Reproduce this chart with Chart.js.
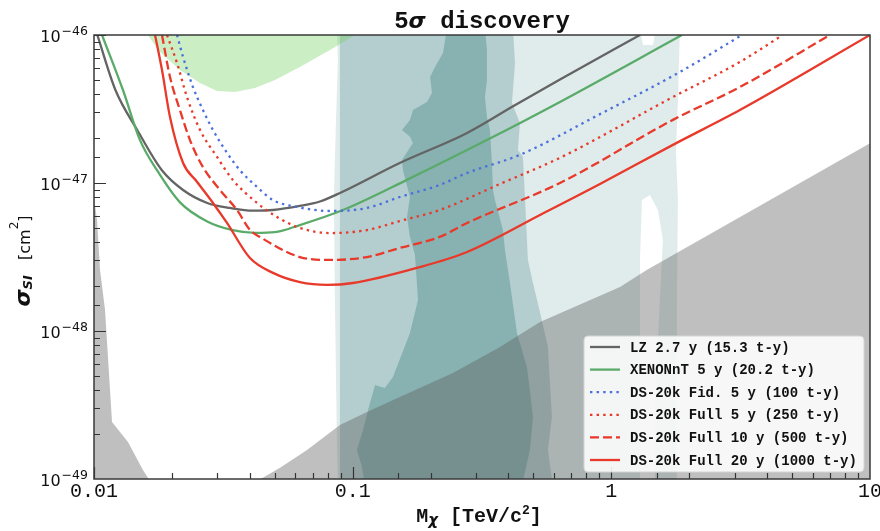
<!DOCTYPE html>
<html>
<head>
<meta charset="utf-8">
<script src="https://cdn.jsdelivr.net/npm/chart.js@4.4.1/dist/chart.umd.min.js"></script>
<style>
html,body{margin:0;padding:0;background:#ffffff;overflow:hidden}
#box{position:relative;width:880px;height:531px}
canvas{display:block}
</style>
</head>
<body>
<div id="box"><canvas id="chart" width="880" height="531"></canvas></div>
<script>
// ---------- tick labels ----------
const xTickText = ['0.01', '0.1', '1', '10'];   // decades 10^-2 .. 10^1 TeV
const yDecades = [-46, -47, -48, -49];           // sigma decades (cm^2)

// ---------- sensitivity curves (mass in TeV/c^2, sigma in cm^2) ----------
const lzMass   = [0.0103, 0.0121, 0.0147, 0.0183, 0.0221, 0.0274, 0.0336, 0.0412, 0.0492, 0.0625, 0.0747, 0.0893, 0.152, 0.277, 0.417, 0.633, 1.29];
const lzSigma  = [1.0e-46, 4.25e-47, 2.28e-47, 1.22e-47, 8.97e-48, 7.33e-48, 6.78e-48, 6.5e-48, 6.57e-48, 7.0e-48, 7.5e-48, 8.56e-48, 1.365e-47, 2.18e-47, 3.3e-47, 5.0e-47, 1.0e-46];

const xeMass   = [0.01074, 0.01294, 0.01506, 0.01752, 0.0215, 0.0274, 0.0344, 0.0420, 0.0500, 0.0625, 0.0917, 0.162, 0.330, 0.633, 1.875];
const xeSigma  = [1.0e-46, 4.25e-47, 1.95e-47, 1.22e-47, 7.4e-48, 5.5e-48, 4.8e-48, 4.6e-48, 4.65e-48, 5.2e-48, 6.57e-48, 1.05e-47, 1.95e-47, 3.53e-47, 1.0e-46];

const fidMass  = [0.02094, 0.0221, 0.02413, 0.02638, 0.02884, 0.03267, 0.03666, 0.0427, 0.0492, 0.0609, 0.0817, 0.1136, 0.152, 0.217, 0.277, 0.443, 0.904, 1.84, 3.2];
const fidSigma = [1.0e-46, 7.1e-47, 4.45e-47, 3.11e-47, 2.28e-47, 1.60e-47, 1.22e-47, 9.4e-48, 7.67e-48, 6.89e-48, 6.47e-48, 6.78e-48, 8.04e-48, 9.7e-48, 1.17e-47, 1.55e-47, 2.92e-47, 5.62e-47, 1.0e-46];

const full5Mass  = [0.01915, 0.02094, 0.02288, 0.0257, 0.0299, 0.0344, 0.0427, 0.0510, 0.0625, 0.0817, 0.1136, 0.152, 0.217, 0.371, 0.633, 1.73, 3.14, 4.6];
const full5Sigma = [1.0e-46, 6.47e-47, 3.81e-47, 2.28e-47, 1.50e-47, 1.05e-47, 7.33e-48, 5.89e-48, 4.97e-48, 4.59e-48, 4.81e-48, 5.53e-48, 6.57e-48, 9.85e-48, 1.48e-47, 3.81e-47, 6.57e-47, 1.0e-46];

const full10Mass  = [0.01832, 0.01967, 0.02149, 0.0235, 0.02638, 0.0307, 0.0357, 0.0401, 0.0438, 0.0625, 0.0817, 0.1136, 0.152, 0.217, 0.277, 0.633, 1.73, 3.14, 7.0];
const full10Sigma = [1.0e-46, 5.2e-47, 3.11e-47, 1.95e-47, 1.28e-47, 8.97e-48, 6.57e-48, 4.81e-48, 4.32e-48, 3.16e-48, 3.02e-48, 3.16e-48, 3.64e-48, 4.32e-48, 5.37e-48, 1.0e-47, 2.67e-47, 4.45e-47, 1.0e-46];

const full20Mass  = [0.01722, 0.01832, 0.01967, 0.0221, 0.0250, 0.02884, 0.03267, 0.0401, 0.0492, 0.0625, 0.0796, 0.1003, 0.177, 0.277, 0.530, 0.904, 1.73, 3.14, 10];
const full20Sigma = [1.0e-46, 5.8e-47, 2.79e-47, 1.365e-47, 1.02e-47, 7.33e-48, 5.37e-48, 3.11e-48, 2.47e-48, 2.14e-48, 2.05e-48, 2.11e-48, 2.67e-48, 3.42e-48, 6.08e-48, 9.84e-48, 1.81e-47, 3.11e-47, 1.0e-46];

// ---------- shaded regions (closed outlines) ----------
const lightMass  = [0.0869, 1.290, 1.325, 1.448, 1.487, 1.842, 1.809, 1.777, 1.809, 1.793, 1.793, 1.474, 1.474, 1.541, 1.583, 1.514, 1.410, 1.313, 1.290, 1.290, 0.0877, 0.0869, 0.0854, 0.0846, 0.0862, 0.0877];
const lightSigma = [1.1e-46, 1.1e-46, 8.56e-47, 8.56e-47, 1.1e-46, 1.1e-46, 3.64e-47, 1.67e-47, 7.67e-48, 1.62e-48, 9e-50, 9e-50, 3.42e-49, 1.62e-48, 4.12e-48, 6.57e-48, 8.30e-48, 7.67e-48, 3.02e-48, 9e-50, 9e-50, 1.84e-49, 1.62e-48, 7.67e-48, 2.67e-47, 6.78e-47];

const mediumMass  = [0.0893, 0.4167, 0.4242, 0.4130, 0.4433, 0.4355, 0.4553, 0.4634, 0.4759, 0.4978, 0.5297, 0.5687, 0.5790, 0.5894, 0.5687, 0.5947, 0.0893];
const mediumSigma = [1.1e-46, 1.1e-46, 6.47e-47, 3.47e-47, 2.54e-47, 1.67e-47, 1.50e-47, 8.04e-48, 3.02e-48, 2.11e-48, 1.34e-48, 7.80e-49, 4.46e-49, 2.62e-49, 1.57e-49, 9e-50, 9e-50];

const darkMass  = [0.2314, 0.2234, 0.2081, 0.1991, 0.2026, 0.1938, 0.1710, 0.1665, 0.1551, 0.1665, 0.1710, 0.1551, 0.1565, 0.1665, 0.1622, 0.1665, 0.1741, 0.1789, 0.1665, 0.1431, 0.1333, 0.1220, 0.1166, 0.1096, 0.1039, 0.1086, 0.1116,
                   0.4512, 0.4843, 0.4978, 0.4843, 0.4716, 0.4317, 0.4057, 0.3880, 0.3811, 0.3548, 0.3486, 0.3455, 0.3394, 0.3305, 0.3247, 0.3305, 0.3305, 0.3247];
const darkSigma = [1.1e-46, 7.55e-47, 6.08e-47, 5.2e-47, 4.06e-47, 3.53e-47, 3.11e-47, 2.67e-47, 2.28e-47, 2.05e-47, 1.86e-47, 1.43e-47, 1.22e-47, 8.04e-48, 5.89e-48, 4.32e-48, 3.26e-48, 1.62e-48, 9.68e-49, 4.89e-49, 4.12e-49, 4.32e-49, 3.26e-49, 2.14e-49, 1.57e-49, 1.21e-49, 9e-50,
                   9e-50, 1.57e-49, 2.62e-49, 3.99e-49, 5.71e-49, 9.68e-49, 2.11e-48, 3.52e-48, 4.81e-48, 7.67e-48, 8.97e-48, 1.365e-47, 2.28e-47, 2.79e-47, 3.81e-47, 4.97e-47, 7.92e-47, 1.1e-46];

const greenMass  = [0.0155, 0.0180, 0.02149, 0.0257, 0.0299, 0.0351, 0.0419, 0.0501, 0.0625, 0.0817, 0.112];
const greenSigma = [1.1e-46, 7.68e-47, 5.8e-47, 4.74e-47, 4.19e-47, 4.12e-47, 4.38e-47, 4.97e-47, 6.08e-47, 7.92e-47, 1.1e-46];

const spikeMass  = [0.0095, 0.0098, 0.01027, 0.01055, 0.01103, 0.01174, 0.01353, 0.01546, 0.0169, 0.0095];
const spikeSigma = [1.05e-47, 1.05e-47, 5.62e-48, 2.58e-48, 1.39e-48, 2.43e-49, 1.78e-49, 1.15e-49, 9e-50, 9e-50];

const floorMass  = [10.5, 0.0397, 0.0524, 0.0666, 0.0893, 0.1136, 0.152, 0.244, 0.371, 0.530, 1.08, 1.37, 10.5];
const floorSigma = [9e-50, 9e-50, 1.19e-49, 1.57e-49, 2.32e-49, 2.84e-49, 3.58e-49, 5.2e-49, 7.8e-49, 1.15e-48, 1.98e-48, 2.58e-48, 1.95e-47];

// ---------- helpers ----------
const pts = (xs, ys) => xs.map((x, i) => ({x: x, y: ys[i]}));
function curve(label, xs, ys, color, dash, order) {
  return {label, data: pts(xs, ys), borderColor: color, backgroundColor: color, borderWidth: 2.3,
          borderDash: dash, borderCapStyle: 'butt', pointRadius: 0, pointHoverRadius: 0, fill: false,
          cubicInterpolationMode: 'monotone', order, inLegend: true};
}
function area(label, xs, ys, color, order) {
  return {label, data: pts(xs, ys), borderWidth: 0, borderColor: 'rgba(0,0,0,0)', backgroundColor: color,
          pointRadius: 0, pointHoverRadius: 0, fill: 'shape', tension: 0, order, inLegend: false};
}
const isDecade = v => { const l = Math.log10(v); return Math.abs(l - Math.round(l)) < 1e-6; };

const RED = '#e8392a';
const FLOOR = 'rgba(90,90,90,0.39)';
const datasets = [
  curve('LZ 2.7 y (15.3 t-y)', lzMass, lzSigma, '#646464', [], 6),
  curve('XENONnT 5 y (20.2 t-y)', xeMass, xeSigma, '#5aab69', [], 5),
  curve('DS-20k Fid. 5 y (100 t-y)', fidMass, fidSigma, '#4b6fdc', [2.4, 4.2], 4),
  curve('DS-20k Full 5 y (250 t-y)', full5Mass, full5Sigma, RED, [2.4, 4.2], 3),
  curve('DS-20k Full 10 y (500 t-y)', full10Mass, full10Sigma, RED, [9, 4], 2),
  curve('DS-20k Full 20 y (1000 t-y)', full20Mass, full20Sigma, RED, [], 1),
  area('floor', floorMass, floorSigma, FLOOR, 10),
  area('floorLow', spikeMass, spikeSigma, FLOOR, 11),
  area('green', greenMass, greenSigma, 'rgba(110,205,90,0.35)', 12),
  area('dark', darkMass, darkSigma, 'rgba(60,130,125,0.37)', 13),
  area('medium', mediumMass, mediumSigma, 'rgba(80,140,142,0.30)', 14),
  area('light', lightMass, lightSigma, 'rgba(100,155,155,0.20)', 15)
];

function drawRuns(ctx, runs, cx, base) {
  let w = 0;
  runs.forEach(r => { ctx.font = r.f; r.w = ctx.measureText(r.t).width; w += r.w; });
  let x = cx - w / 2;
  ctx.textAlign = 'left'; ctx.textBaseline = 'alphabetic';
  runs.forEach(r => { ctx.font = r.f; ctx.fillText(r.t, x, base + (r.dy || 0)); x += r.w; });
}

const overlay = {
  id: 'overlay',
  afterDraw(chart) {
    const ctx = chart.ctx, ca = chart.chartArea;
    const xs = chart.scales.x, ys = chart.scales.y;
    ctx.save();
    // inward tick marks
    ctx.strokeStyle = '#333'; ctx.lineWidth = 1.2; ctx.setLineDash([]);
    ctx.beginPath();
    xs.ticks.forEach(t => {
      const px = Math.round(xs.getPixelForValue(t.value)) + 0.5;
      if (px < ca.left || px > ca.right) return;
      const L = isDecade(t.value) ? 12 : 6;
      ctx.moveTo(px, ca.bottom); ctx.lineTo(px, ca.bottom - L);
    });
    ys.ticks.forEach(t => {
      const py = Math.round(ys.getPixelForValue(t.value)) + 0.5;
      if (py < ca.top || py > ca.bottom) return;
      const L = isDecade(t.value) ? 12 : 6;
      ctx.moveTo(ca.left, py); ctx.lineTo(ca.left + L, py);
    });
    ctx.stroke();
    // frame
    ctx.strokeStyle = '#3a3a3a'; ctx.lineWidth = 1.5;
    ctx.strokeRect(ca.left, ca.top, ca.right - ca.left, ca.bottom - ca.top);

    // y tick labels 10^-n
    ctx.fillStyle = '#111';
    yDecades.forEach(e => {
      const py = ys.getPixelForValue(Math.pow(10, e));
      const right = ca.left - 6;
      const expT = '\u2212' + Math.abs(e);
      ctx.textAlign = 'right'; ctx.textBaseline = 'alphabetic';
      ctx.font = '12.5px "DejaVu Sans"';
      const ew = ctx.measureText(expT).width;
      ctx.fillText(expT, right, py);
      ctx.font = '16px "DejaVu Sans"';
      ctx.fillText('10', right - ew - 1, py + 6.5);
    });

    // title
    const cx = (ca.left + ca.right) / 2;
    drawRuns(ctx, [
      {t: '5', f: 'bold 24px "Liberation Mono"'},
      {t: '\u03C3', f: 'italic bold 22px "DejaVu Sans"'},
      {t: ' discovery', f: 'bold 24px "Liberation Mono"'}
    ], cx, 28);

    // x axis title
    drawRuns(ctx, [
      {t: 'M', f: 'bold 20px "Liberation Mono"'},
      {t: '\u03C7', f: 'italic bold 15px "DejaVu Sans"', dy: 3},
      {t: ' [TeV/c', f: 'bold 20px "Liberation Mono"'},
      {t: '2', f: 'bold 13px "Liberation Mono"', dy: -8},
      {t: ']', f: 'bold 20px "Liberation Mono"'}
    ], cx - 3, 522);

    // y axis title
    ctx.save();
    ctx.translate(30, (ca.top + ca.bottom) / 2 + 4);
    ctx.rotate(-Math.PI / 2);
    drawRuns(ctx, [
      {t: '\u03C3', f: 'italic bold 22px "DejaVu Sans"'},
      {t: 'SI', f: 'italic bold 13px "DejaVu Sans"', dy: 2},
      {t: '   [cm', f: '16px "DejaVu Sans"'},
      {t: '2', f: '12px "DejaVu Sans"', dy: -12},
      {t: ']', f: '16px "DejaVu Sans"'}
    ], 0, 0);
    ctx.restore();

    // legend
    const items = chart.data.datasets.filter(d => d.inLegend);
    const W = 280, H = 136;
    const L0 = ca.right - 6 - W, T0 = ca.bottom - 7 - H;
    ctx.beginPath();
    if (ctx.roundRect) ctx.roundRect(L0, T0, W, H, 4); else ctx.rect(L0, T0, W, H);
    ctx.fillStyle = 'rgba(255,255,255,0.88)'; ctx.fill();
    ctx.strokeStyle = '#d4d4d4'; ctx.lineWidth = 1; ctx.stroke();
    items.forEach((d, i) => {
      const y = T0 + 11 + i * 22.6;
      ctx.strokeStyle = d.borderColor; ctx.lineWidth = d.borderWidth; ctx.lineCap = 'butt';
      ctx.setLineDash(d.borderDash || []);
      ctx.beginPath(); ctx.moveTo(L0 + 6, y); ctx.lineTo(L0 + 36, y); ctx.stroke();
      ctx.setLineDash([]);
      ctx.font = 'bold 14px "Liberation Mono"'; ctx.fillStyle = '#111';
      ctx.textAlign = 'left'; ctx.textBaseline = 'middle';
      ctx.fillText(d.label, L0 + 46, y + 1);
    });
    ctx.restore();
  }
};

Chart.defaults.font.family = '"Liberation Mono"';
new Chart(document.getElementById('chart'), {
  type: 'line',
  data: {datasets},
  options: {
    responsive: false,
    animation: false,
    devicePixelRatio: 1,
    layout: {padding: {top: 35, right: 10, left: 0, bottom: 0}},
    plugins: {legend: {display: false}, tooltip: {enabled: false}, title: {display: false}},
    events: [],
    scales: {
      x: {
        type: 'logarithmic', min: 0.01, max: 10,
        grid: {display: false, drawTicks: false}, border: {display: false},
        ticks: {
          autoSkip: false, maxRotation: 0, minRotation: 0, padding: 1, color: '#111',
          font: {family: '"Liberation Mono"', size: 20},
          callback: (v) => {
            if (!isDecade(v)) return '';
            const e = Math.round(Math.log10(v));
            return xTickText[e + 2] || '';
          }
        },
        afterFit(s) { s.height = 52; s.paddingLeft = 0; s.paddingRight = 0; }
      },
      y: {
        type: 'logarithmic', min: 1e-49, max: 1e-46,
        grid: {display: false, drawTicks: false}, border: {display: false},
        ticks: {display: false},
        afterFit(s) { s.width = 94; s.paddingTop = 0; s.paddingBottom = 0; }
      }
    }
  },
  plugins: [overlay]
});
</script>
</body>
</html>
